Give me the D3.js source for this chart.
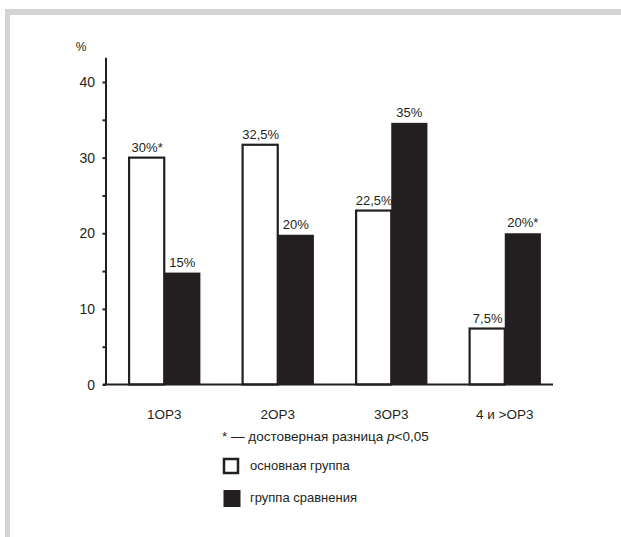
<!DOCTYPE html>
<html><head><meta charset="utf-8">
<script src="https://cdn.jsdelivr.net/npm/d3@7/dist/d3.min.js"></script>
<style>
html,body{margin:0;padding:0;background:#fff;}
text{font-family:"Liberation Sans",Arial,sans-serif;fill:#231f20;}
</style></head>
<body>
<script>
const categories = ["1ОР3", "2ОР3", "3ОР3", "4 и >ОР3"];
const mainValues = [30, 31.7, 23, 7.4];
const compValues = [14.8, 19.8, 34.6, 20];
const mainLabels = ["30%*", "32,5%", "22,5%", "7,5%"];
const compLabels = ["15%", "20%", "35%", "20%*"];
const tickValues = [0, 5, 10, 15, 20, 25, 30, 35, 40];
const tickLabels = [0, 10, 20, 30, 40];
const legendItems = ["основная группа", "группа сравнения"];

const W = 621, H = 537;
const ink = "#231f20";
const svg = d3.select("body").append("svg").attr("width", W).attr("height", H);

// frame
svg.append("rect").attr("x", 5).attr("y", 9).attr("width", W - 5).attr("height", 6).attr("fill", "#d4d4d4");
svg.append("rect").attr("x", 5).attr("y", 9).attr("width", 5).attr("height", H - 9).attr("fill", "#d4d4d4");

const y = d3.scaleLinear().domain([0, 40]).range([384.5, 82]);
const x0 = d3.scaleBand().domain(categories).range([103, 566]).paddingInner(0.363).paddingOuter(0.221);
const x1 = d3.scaleBand().domain(["main", "comp"]).range([0, x0.bandwidth()]);

// y axis
const yAxis = d3.axisLeft(y).tickValues(tickValues).tickSize(3.5).tickFormat("");
const gy = svg.append("g").attr("transform", "translate(106,0)").call(yAxis);
gy.select(".domain").remove();
gy.selectAll(".tick line").attr("stroke", ink).attr("stroke-width", 2);
svg.append("line").attr("x1", 106).attr("x2", 106).attr("y1", y(43.2)).attr("y2", y(0))
  .attr("stroke", ink).attr("stroke-width", 2);
svg.selectAll(".ylab").data(tickLabels).enter().append("text")
  .attr("x", 95).attr("y", d => y(d) + 5).attr("text-anchor", "end")
  .attr("font-size", 14).text(d => d);
svg.append("text").attr("x", 81).attr("y", 51).attr("text-anchor", "middle").attr("font-size", 12).text("%");

// bars
const groups = svg.selectAll(".grp").data(categories).enter().append("g")
  .attr("transform", d => `translate(${x0(d)},0)`);
groups.append("rect")
  .attr("x", x1("main") + 1).attr("width", x1.bandwidth() - 1)
  .attr("y", (d, i) => y(mainValues[i])).attr("height", (d, i) => y(0) - y(mainValues[i]))
  .attr("fill", "#fff").attr("stroke", ink).attr("stroke-width", 2.2);
groups.append("rect")
  .attr("x", x1("comp")).attr("width", x1.bandwidth())
  .attr("y", (d, i) => y(compValues[i])).attr("height", (d, i) => y(0) - y(compValues[i]))
  .attr("fill", ink);
groups.append("text")
  .attr("x", x1("main") + x1.bandwidth() / 2 + 1).attr("y", (d, i) => y(mainValues[i]) - 6)
  .attr("text-anchor", "middle").attr("font-size", 13).text((d, i) => mainLabels[i]);
groups.append("text")
  .attr("x", x1("comp") + x1.bandwidth() / 2).attr("y", (d, i) => y(compValues[i]) - 6)
  .attr("text-anchor", "middle").attr("font-size", 13).text((d, i) => compLabels[i]);

// x axis
svg.append("line").attr("x1", 103).attr("x2", 553).attr("y1", y(0)).attr("y2", y(0))
  .attr("stroke", ink).attr("stroke-width", 2);
svg.selectAll(".xlab").data(categories).enter().append("text")
  .attr("x", d => x0(d) + x0.bandwidth() / 2).attr("y", 419)
  .attr("text-anchor", "middle").attr("font-size", 13.5).text(d => d);

// legend
const note = svg.append("text").attr("x", 222).attr("y", 441).attr("font-size", 13.5);
note.append("tspan").text("* — достоверная разница ");
note.append("tspan").attr("font-style", "italic").text("p");
note.append("tspan").text("<0,05");

const lg = svg.selectAll(".lg").data(legendItems).enter().append("g");
lg.append("rect").attr("x", (d, i) => i === 0 ? 224 : 223.5).attr("y", (d, i) => i === 0 ? 459 : 490)
  .attr("width", (d, i) => i === 0 ? 14 : 17).attr("height", (d, i) => i === 0 ? 14 : 17)
  .attr("fill", (d, i) => i === 0 ? "#fff" : ink)
  .attr("stroke", (d, i) => i === 0 ? ink : "none").attr("stroke-width", 2.5);
lg.append("text").attr("x", 250).attr("y", (d, i) => i === 0 ? 470 : 502).attr("font-size", 13).text(d => d);
</script>
</body></html>
